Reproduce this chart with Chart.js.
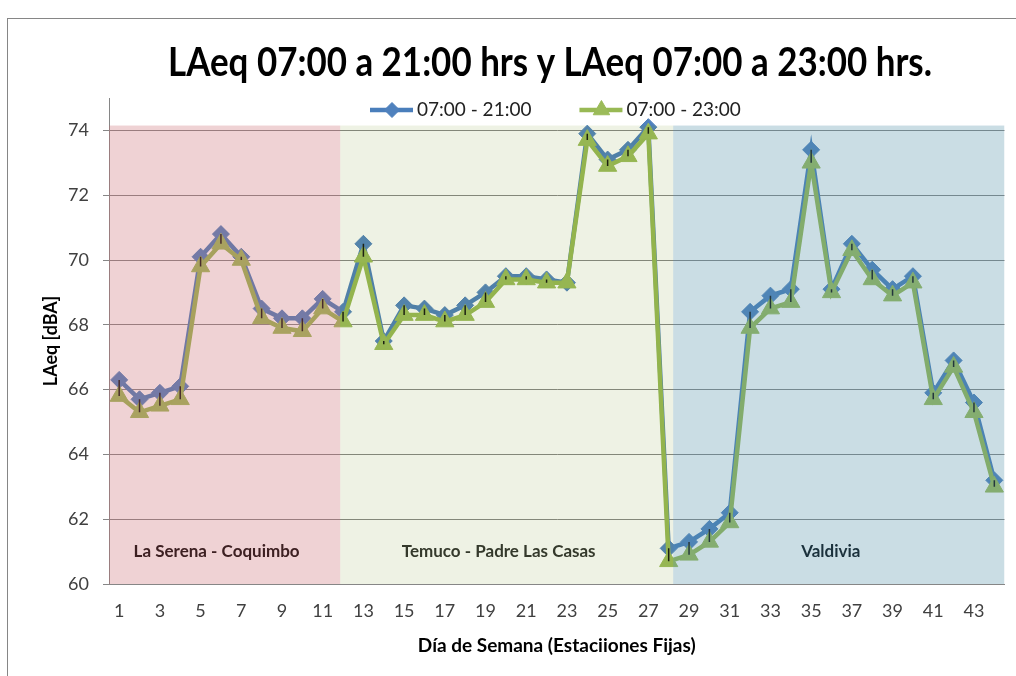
<!DOCTYPE html>
<html>
<head>
<meta charset="utf-8">
<script src="https://cdn.jsdelivr.net/npm/chart.js@4/dist/chart.umd.min.js"></script>
<style>
  html, body { margin: 0; padding: 0; background: #fff; overflow: hidden; }
  #wrap { width: 1016px; height: 676px; position: relative; }
  #wrap canvas { display: block; }
</style>
</head>
<body>
<div id="wrap"><canvas id="laeqChart"></canvas></div>
<script>
// fixed stations 1..44
const stations = [
  "1", "2", "3", "4", "5", "6", "7", "8", "9", "10", "11",
  "12", "13", "14", "15", "16", "17", "18", "19", "20", "21", "22",
  "23", "24", "25", "26", "27", "28", "29", "30", "31", "32", "33",
  "34", "35", "36", "37", "38", "39", "40", "41", "42", "43", "44",
];

// LAeq 07:00 - 21:00 [dBA]
const laeqDay21 = [
  66.3, 65.7, 65.9, 66.1, 70.1, 70.8, 70.1, 68.5, 68.2, 68.2, 68.8,
  68.4, 70.5, 67.5, 68.6, 68.5, 68.3, 68.6, 69.0, 69.5, 69.5, 69.4,
  69.3, 73.9, 73.1, 73.4, 74.1, 61.1, 61.3, 61.7, 62.2, 68.4, 68.9,
  69.1, 73.4, 69.1, 70.5, 69.7, 69.1, 69.5, 65.9, 66.9, 65.6, 63.2,
];

// LAeq 07:00 - 23:00 [dBA]
const laeqDay23 = [
  65.8, 65.3, 65.5, 65.7, 69.8, 70.5, 70.0, 68.2, 67.9, 67.8, 68.5,
  68.1, 70.1, 67.4, 68.3, 68.3, 68.1, 68.3, 68.7, 69.4, 69.4, 69.3,
  69.3, 73.7, 72.9, 73.2, 73.9, 60.7, 60.9, 61.3, 61.9, 67.9, 68.5,
  68.7, 73.0, 69.0, 70.3, 69.4, 68.9, 69.3, 65.7, 66.7, 65.3, 63.0,
];

const seriesNames = ["07:00 - 21:00", "07:00 - 23:00"];

// city zones, in station numbers
const zoneNames = ["La Serena - Coquimbo", "Temuco - Padre Las Casas", "Valdivia"];
const zoneFrom = [0.5, 11.86, 28.22];
const zoneTo = [11.86, 28.22, 44.5];
const zoneTop = 74.15;
const zoneLabelLevel = 61.0;

const yTicks = [60, 62, 64, 66, 68, 70, 72, 74];

const titleText = "LAeq 07:00 a 21:00 hrs y LAeq 07:00 a 23:00 hrs.";
const xTitle = "Día de Semana (Estaciiones Fijas)";
const yTitle = "LAeq [dBA]";

// look
const FONT = "Lato, 'Open Sans', sans-serif";
const zoneFill = ["rgba(202, 105, 112, 0.3)", "rgba(113, 147, 30, 0.12)", "rgba(78, 142, 165, 0.3)"];
const zoneText = ["#3d2022", "#34392b", "#1b313c"];
const blue = "#4a7ebb";
const green = "#98b954";
const axisGray = "#868686";

const stationIndex = (n) => n - 1;

const backdrop = {
  id: "backdrop",
  beforeDraw(chart) {
    const { ctx, width, height } = chart;
    ctx.save();
    ctx.fillStyle = "#fff";
    ctx.fillRect(0, 0, width, height);
    ctx.strokeStyle = axisGray;
    ctx.lineWidth = 1;
    ctx.strokeRect(7.5, 18.5, width + 100, height + 100);
    ctx.restore();
  },
};

const zones = {
  id: "zones",
  afterDatasetsDraw(chart) {
    const { ctx, chartArea } = chart;
    const x = chart.scales.x;
    const y = chart.scales.y;
    const hi = chart.getDatasetMeta(0).data;
    const lo = chart.getDatasetMeta(1).data;

    ctx.save();
    ctx.beginPath();
    ctx.rect(chartArea.left, chartArea.top, chartArea.right - chartArea.left, chartArea.bottom - chartArea.top);
    ctx.clip();

    // high-low lines between the two series
    ctx.strokeStyle = "#111";
    ctx.lineWidth = 1.5;
    hi.forEach((p, i) => {
      ctx.beginPath();
      ctx.moveTo(p.x, p.y);
      ctx.lineTo(lo[i].x, lo[i].y);
      ctx.stroke();
    });

    // translucent zone bands over everything in the plot
    zoneNames.forEach((name, i) => {
      const x0 = x.getPixelForValue(stationIndex(zoneFrom[i]));
      const x1 = x.getPixelForValue(stationIndex(zoneTo[i]));
      const y0 = y.getPixelForValue(zoneTop);
      const y1 = y.getPixelForValue(y.min);
      ctx.fillStyle = zoneFill[i];
      ctx.fillRect(x0, y0, x1 - x0, y1 - y0);
    });

    ctx.font = "bold 17px " + FONT;
    ctx.textAlign = "center";
    ctx.textBaseline = "middle";
    zoneNames.forEach((name, i) => {
      const x0 = x.getPixelForValue(stationIndex(zoneFrom[i]));
      const x1 = x.getPixelForValue(stationIndex(zoneTo[i]));
      ctx.fillStyle = zoneText[i];
      ctx.fillText(name, (x0 + x1) / 2 - 8, y.getPixelForValue(zoneLabelLevel));
    });
    ctx.restore();
  },
};

const headings = {
  id: "headings",
  afterDraw(chart) {
    const { ctx } = chart;
    ctx.save();

    // title, squeezed to the narrow width of the original face
    ctx.font = "bold 41px " + FONT;
    ctx.fillStyle = "#000";
    ctx.textAlign = "center";
    ctx.textBaseline = "alphabetic";
    const w = ctx.measureText(titleText).width;
    ctx.translate(550, 76);
    ctx.scale(Math.min(1, 764 / w), 1);
    ctx.fillText(titleText, 0, 0);
    ctx.restore();

    // legend
    ctx.save();
    ctx.font = "19px " + FONT;
    ctx.textBaseline = "middle";
    ctx.textAlign = "left";
    const ly = 110;
    let lx = 370;
    chart.data.datasets.forEach((ds) => {
      ctx.strokeStyle = ds.borderColor;
      ctx.lineWidth = 4.5;
      ctx.beginPath();
      ctx.moveTo(lx, ly);
      ctx.lineTo(lx + 43, ly);
      ctx.stroke();
      ctx.fillStyle = ds.pointBackgroundColor;
      ctx.strokeStyle = ds.pointBorderColor;
      ctx.lineWidth = 1;
      Chart.helpers.drawPoint(ctx, { pointStyle: ds.pointStyle, radius: ds.pointRadius - 1, borderWidth: 1, rotation: 0 }, lx + 22, ly);
      ctx.fillStyle = "#222";
      ctx.fillText(ds.label, lx + 47, ly);
      lx += 47 + ctx.measureText(ds.label).width + 48;
    });
    ctx.restore();
  },
};

new Chart(document.getElementById("laeqChart"), {
  type: "line",
  data: {
    labels: stations,
    datasets: [
      {
        label: seriesNames[0],
        data: laeqDay21,
        borderColor: blue,
        borderWidth: 4.5,
        pointStyle: "rectRot",
        pointRadius: 8.5,
        pointHoverRadius: 8.5,
        pointBackgroundColor: "#4f81bd",
        pointBorderColor: "#4f81bd",
        pointBorderWidth: 1,
        tension: 0,
        order: 0,
      },
      {
        label: seriesNames[1],
        data: laeqDay23,
        borderColor: green,
        borderWidth: 4.5,
        pointStyle: "triangle",
        pointRadius: 10.5,
        pointHoverRadius: 10.5,
        pointBackgroundColor: "#9bbb59",
        pointBorderColor: "#9bbb59",
        pointBorderWidth: 1,
        tension: 0,
        order: -1,
      },
    ],
  },
  options: {
    responsive: true,
    maintainAspectRatio: false,
    animation: false,
    events: [],
    layout: { padding: { top: 98, right: 2, left: 0, bottom: 0 } },
    plugins: {
      legend: { display: false },
      title: { display: false },
      tooltip: { enabled: false },
    },
    scales: {
      x: {
        type: "category",
        offset: true,
        // hidden tick marks only push the labels down
        grid: { display: false, drawTicks: true, tickLength: 16 },
        border: { display: true, color: axisGray, width: 1 },
        ticks: {
          autoSkip: false,
          maxRotation: 0,
          padding: 0,
          color: "#404040",
          font: { family: FONT, size: 18 },
          callback: (v, i) => (i % 2 === 0 ? stations[i] : ""),
        },
        title: {
          display: true,
          text: xTitle,
          color: "#000",
          font: { family: FONT, size: 19, weight: "bold" },
          padding: { top: 0, bottom: 19 },
        },
        afterFit: (scale) => {
          scale.height = 92;
          scale.paddingLeft = 0;
          scale.paddingRight = 0;
        },
      },
      y: {
        min: 60,
        max: 75,
        afterBuildTicks: (scale) => { scale.ticks = yTicks.map((v) => ({ value: v })); },
        grid: { color: axisGray, lineWidth: 1, tickLength: 6, drawTicks: true },
        border: { display: true, color: axisGray, width: 1 },
        ticks: {
          padding: 14,
          color: "#404040",
          font: { family: FONT, size: 18 },
        },
        title: {
          display: true,
          text: yTitle,
          color: "#000",
          font: { family: FONT, size: 18, weight: "bold" },
          padding: { top: 40, bottom: 0 },
        },
        afterFit: (scale) => { scale.width = 109; },
      },
    },
  },
  plugins: [backdrop, zones, headings],
});
</script>
</body>
</html>
